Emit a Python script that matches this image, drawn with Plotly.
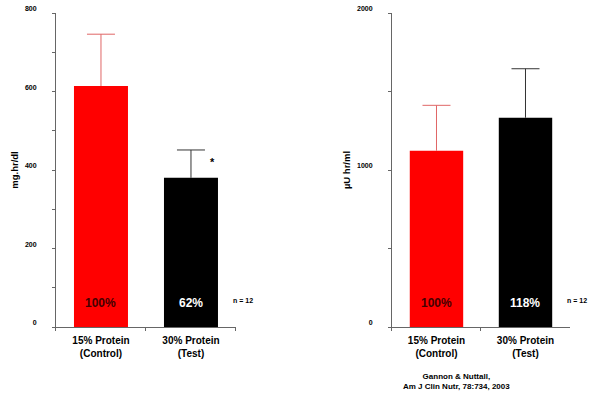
import plotly.graph_objects as go

categories = ["15% Protein<br>(Control)", "30% Protein<br>(Test)"]
glucose_auc = [614, 380]
glucose_err = [132, 71]
insulin_auc = [1123, 1333]
insulin_err = [289, 312]
glucose_pct = ["100%", "62%"]
insulin_pct = ["100%", "118%"]
bar_colors = ["#ff0000", "#000000"]
err_colors = ["#e06666", "#333333"]
pct_colors = ["#440000", "#ffffff"]

FONT = "Liberation Sans, Arial, sans-serif"
fig = go.Figure()
shapes = []

def add_bars(xa, ya, vals, errs):
    for i in range(2):
        fig.add_trace(go.Bar(
            x=[categories[i]], y=[vals[i]], xaxis=xa, yaxis=ya,
            marker=dict(color=bar_colors[i], line=dict(width=0)),
            width=0.6, showlegend=False, hoverinfo="skip",
        ))
        top = vals[i] + errs[i]
        shapes.append(dict(type="line", xref=xa, yref=ya, x0=i, x1=i, y0=vals[i], y1=top,
                           line=dict(color=err_colors[i], width=1)))
        shapes.append(dict(type="line", xref=xa, yref=ya, xsizemode="pixel", xanchor=i,
                           x0=-14, x1=14, y0=top, y1=top,
                           line=dict(color=err_colors[i], width=1)))

add_bars("x", "y", glucose_auc, glucose_err)
add_bars("x2", "y2", insulin_auc, insulin_err)

axis_common = dict(showline=True, linecolor="#666666", linewidth=1, showgrid=False,
                   zeroline=False, ticks="outside", tickcolor="#666666", ticklen=3,
                   automargin=False,
                   tickfont=dict(family=FONT, size=7, color="#000", weight="bold"))
xcommon = dict(axis_common, type="category", tickson="boundaries", ticklabelstandoff=4,
               tickfont=dict(family=FONT, size=10, color="#000", weight="bold"))
ycommon = dict(axis_common, ticklabelstandoff=14, ticklabelshift=-4)

fig.update_layout(
    width=600, height=400, margin=dict(l=0, r=0, t=0, b=0),
    plot_bgcolor="white", paper_bgcolor="white",
    xaxis=dict(xcommon, domain=[0.0933, 0.3933], anchor="y"),
    xaxis2=dict(xcommon, domain=[0.6533, 0.95], anchor="y2"),
    yaxis=dict(ycommon, domain=[0.1825, 0.9675], anchor="x", range=[0, 800],
               tickvals=[0, 200, 400, 600, 800],
               minor=dict(dtick=100, ticks="outside", ticklen=3, tickcolor="#666666"),
               title=dict(text="mg.hr/dl", standoff=4,
                          font=dict(family=FONT, size=9.5, color="#000", weight="bold"))),
    yaxis2=dict(ycommon, domain=[0.1825, 0.9675], anchor="x2", range=[0, 2000],
                tickvals=[0, 1000, 2000],
                minor=dict(dtick=500, ticks="outside", ticklen=3, tickcolor="#666666"),
                title=dict(text="µU hr/ml", standoff=4,
                           font=dict(family=FONT, size=9.5, color="#000", weight="bold"))),
    shapes=shapes,
)

annots = []
for xa, pcts in (("x", glucose_pct), ("x2", insulin_pct)):
    ydom = "y domain" if xa == "x" else "y2 domain"
    xdom = "x domain" if xa == "x" else "x2 domain"
    for i in range(2):
        annots.append(dict(x=categories[i], y=0.075, xref=xa, yref=ydom, yanchor="middle",
                           text=pcts[i], showarrow=False,
                           font=dict(family=FONT, size=12, color=pct_colors[i], weight="bold")))
    annots.append(dict(x=0.97, y=0.085, xref=xdom, yref=ydom, xanchor="left", yanchor="middle",
                       text="n = 12", showarrow=False,
                       font=dict(family=FONT, size=7, color="#000", weight="bold")))
annots.append(dict(x=1.24, y=420, xref="x", yref="y", text="*", showarrow=False,
                   font=dict(family=FONT, size=11, color="#000", weight="bold")))
annots.append(dict(x=0.853, y=0.0475, xref="paper", yref="paper", yanchor="middle",
                   text="Gannon & Nuttall,<br>Am J Clin Nutr, 78:734, 2003", showarrow=False,
                   align="center",
                   font=dict(family=FONT, size=8, color="#000", weight="bold")))
fig.update_layout(annotations=annots)

fig.write_html("out.html", config={"displayModeBar": False},
               post_script="document.body.style.margin='0';document.body.style.overflow='hidden';")
